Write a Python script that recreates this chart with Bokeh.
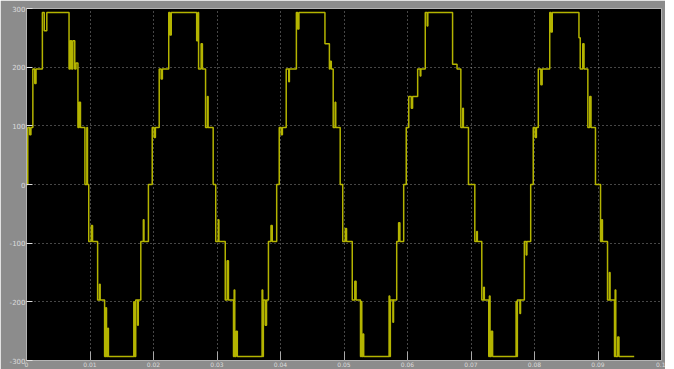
import numpy as np
from bokeh.plotting import figure
from bokeh.models import Range1d, FixedTicker
from bokeh.embed import file_html
from bokeh.resources import INLINE

# ---- data: staircase breakpoints (time in ms, value) ----
c1_t = [0.0, 0.2, 0.5, 0.7, 1.0, 1.3, 1.5, 2.5, 2.8, 3.2, 6.7, 6.9, 7.1, 7.3, 7.6, 7.8, 8.1, 8.3, 8.5,
        9.2, 9.5, 9.6, 9.8, 10.2, 10.4, 11.2, 11.5, 11.6, 12.3, 12.5, 12.6, 12.8, 12.9,
        16.9, 17.0, 17.2, 17.5, 17.6, 18.0, 18.4, 18.5, 19.2]
c1_v = [0, 97, 85, 97, 197, 172, 197, 293, 262, 293, 197, 245, 197, 245, 197, 207, 97, 140, 97,
        0, 97, 0, -97, -70, -97, -197, -170, -197, -293, -210, -293, -245, -293,
        -200, -293, -197, -240, -197, -97, -60, -97, 0]

c2_t = [19.8, 20.1, 20.3, 20.9, 21.2, 21.4, 22.4, 22.6, 22.8, 26.8, 27.0, 27.1, 27.5, 27.7, 28.2, 28.5, 28.6,
        29.4, 29.8, 30.2, 30.3, 31.3, 31.6, 31.8, 32.6, 32.7, 32.8, 33.0, 33.2,
        37.1, 37.2, 37.3, 37.6, 37.8, 38.1, 38.5, 38.7, 39.4]
c2_v = [97, 80, 97, 197, 180, 197, 293, 255, 293, 245, 293, 197, 240, 197, 97, 150, 97,
        0, -97, -60, -97, -197, -130, -197, -293, -180, -293, -250, -293,
        -180, -293, -197, -240, -197, -97, -70, -97, 0]

c3_t = [39.8, 40.1, 40.3, 40.9, 41.3, 41.4, 42.5, 42.7, 42.9, 47.0, 47.7, 47.8, 48.0, 48.3, 48.6, 48.7,
        49.4, 49.8, 50.2, 50.4, 51.3, 51.7, 51.9, 52.6, 52.7, 52.8, 53.0, 53.1,
        57.1, 57.2, 57.3, 57.7, 57.8, 58.3, 58.6, 58.8, 59.4]
c3_v = [97, 85, 97, 197, 175, 197, 293, 265, 293, 240, 197, 210, 197, 97, 140, 97,
        0, -97, -75, -97, -197, -165, -197, -293, -200, -293, -255, -293,
        -190, -293, -197, -235, -197, -97, -65, -97, 0]

c4_t = [59.8, 60.2, 60.6, 60.8, 61.6, 62.0, 62.1, 62.8, 63.1, 63.2, 67.1, 67.8, 68.4, 68.7, 68.8,
        69.6, 70.6, 70.9, 71.0, 71.7, 72.0, 72.1, 72.8, 72.9, 73.0, 73.2, 73.4,
        77.1, 77.2, 77.3, 77.7, 77.8, 78.4, 78.7, 78.8, 79.4]
c4_v = [97, 150, 130, 150, 197, 185, 197, 293, 270, 293, 205, 197, 97, 130, 97,
        0, -97, -80, -97, -197, -175, -197, -293, -190, -293, -250, -293,
        -200, -293, -197, -220, -197, -97, -120, -97, 0]

c5_t = [79.8, 80.1, 80.3, 80.6, 81.0, 81.2, 82.4, 82.6, 82.8, 87.0, 87.2, 87.6, 87.8, 88.4, 88.7, 88.9,
        89.6, 90.4, 90.6, 90.7, 91.5, 91.8, 91.9, 92.6, 92.7, 92.8, 93.1, 93.3, 95.7]
c5_v = [97, 80, 97, 197, 170, 197, 293, 260, 293, 250, 197, 240, 197, 97, 150, 97,
        0, -97, -60, -97, -197, -150, -197, -293, -180, -293, -260, -293, -293]

x_ticks = [0.0, 0.01, 0.02, 0.03, 0.04, 0.05, 0.06, 0.07, 0.08, 0.09, 0.1]
x_tick_labels = ["0", "0.01", "0.02", "0.03", "0.04", "0.05", "0.06", "0.07", "0.08", "0.09", "0.1"]
y_ticks = [-300, -200, -100, 0, 100, 200, 300]
y_tick_labels = ["-300", "-200", "-100", "0", "100", "200", "300"]

t_ms = c1_t + c2_t + c3_t + c4_t + c5_t
vals = c1_v + c2_v + c3_v + c4_v + c5_v
t_s = np.array(t_ms) / 1000.0

# ---- figure ----
p = figure(width=665, height=369, output_backend="svg", toolbar_location=None,
           x_range=Range1d(0, 0.1), y_range=Range1d(-300, 300),
           min_border_left=26, min_border_right=4, min_border_top=8, min_border_bottom=6)
p.background_fill_color = "#000000"
p.border_fill_color = "#8c8c8c"
p.outline_line_color = "#b4b4b4"
p.outline_line_width = 1

p.step(t_s, vals, mode="after", line_color="#b4b400", line_width=1.5)

font = "DejaVu Sans"
for ax in p.xaxis:
    ax.ticker = FixedTicker(ticks=x_ticks)
    ax.major_label_overrides = {t: l for t, l in zip(x_ticks, x_tick_labels)}
    ax.major_label_text_font_size = "6px"
    ax.major_label_text_color = "#dcdcdc"
    ax.major_label_text_font = font
    ax.major_label_standoff = 1
    ax.major_tick_in = 9
    ax.major_tick_out = 0
    ax.major_tick_line_color = "#a8a8a8"
    ax.minor_tick_line_color = None
    ax.axis_line_color = "#b4b4b4"
for ax in p.yaxis:
    ax.ticker = FixedTicker(ticks=y_ticks)
    ax.major_label_overrides = {t: l for t, l in zip(y_ticks, y_tick_labels)}
    ax.major_label_text_font_size = "7px"
    ax.major_label_text_color = "#dcdcdc"
    ax.major_label_text_font = font
    ax.major_label_standoff = 1
    ax.major_tick_in = 6
    ax.major_tick_out = 0
    ax.major_tick_line_color = "#e0e0e0"
    ax.minor_tick_line_color = None
    ax.axis_line_color = "#b4b4b4"

p.xgrid.ticker = FixedTicker(ticks=x_ticks)
p.ygrid.ticker = FixedTicker(ticks=y_ticks)
for g in (p.xgrid[0], p.ygrid[0]):
    g.grid_line_color = "#c8c8c8"
    g.grid_line_dash = "1 3"
    g.grid_line_alpha = 0.7

open("out.html", "w").write(file_html(p, INLINE))
